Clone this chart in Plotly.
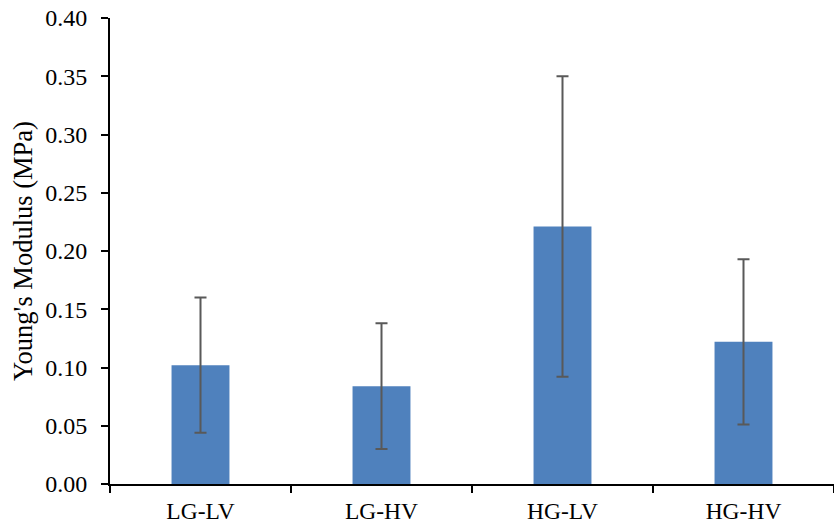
import plotly.graph_objects as go

categories = ["LG-LV", "LG-HV", "HG-LV", "HG-HV"]
modulus = [0.102, 0.084, 0.221, 0.122]
errors = [0.058, 0.054, 0.129, 0.071]
y_ticks = [0.0, 0.05, 0.10, 0.15, 0.20, 0.25, 0.30, 0.35, 0.40]
y_tick_text = ["0.00", "0.05", "0.10", "0.15", "0.20", "0.25", "0.30", "0.35", "0.40"]

font = "Liberation Serif, Times New Roman, serif"

fig = go.Figure(
    go.Bar(
        x=categories,
        y=modulus,
        marker=dict(color="#4F81BD", line=dict(width=0)),
        width=0.32,
        error_y=dict(type="data", array=errors, visible=True,
                     color="#595959", thickness=2, width=6),
    )
)

fig.update_layout(
    width=834, height=525,
    margin=dict(l=110, r=0, t=18, b=41),
    paper_bgcolor="white", plot_bgcolor="white",
    font=dict(family=font, size=23.5, color="black"),
    showlegend=False,
    xaxis=dict(
        showline=True, linecolor="black", linewidth=2,
        ticks="outside", tickson="boundaries", ticklen=7, tickwidth=2, tickcolor="black",
        tickfont=dict(family=font, size=23.5, color="black"),
        ticklabelstandoff=5,
        showgrid=False, zeroline=False, automargin=False,
    ),
    yaxis=dict(
        range=[0, 0.40], tickvals=y_ticks, ticktext=y_tick_text,
        showline=True, linecolor="black", linewidth=2,
        ticks="outside", ticklen=7, tickwidth=2, tickcolor="black",
        tickfont=dict(family=font, size=24, color="black"),
        ticklabelstandoff=9,
        showgrid=False, zeroline=False, automargin=False,
        title=dict(text="Young's Modulus (MPa)", font=dict(family=font, size=26.5, color="black"), standoff=5),
    ),
)

fig.write_html("out.html")
